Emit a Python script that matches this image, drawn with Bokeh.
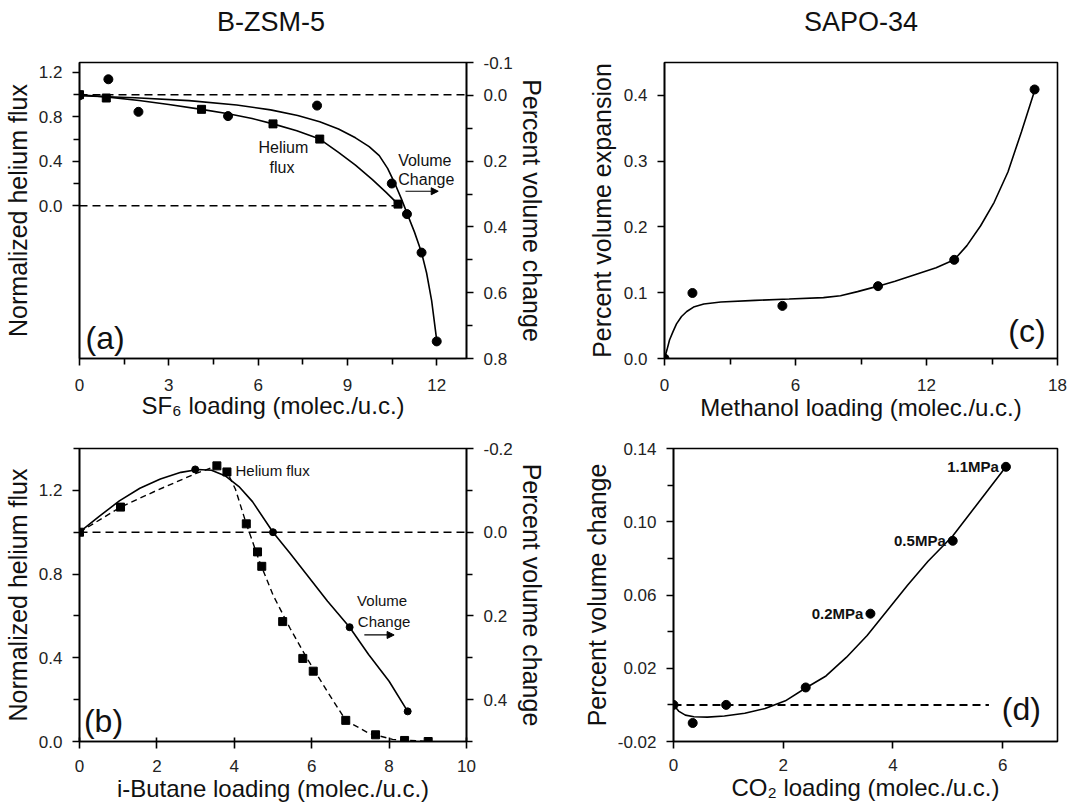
from bokeh.plotting import figure
from bokeh.models import (Range1d, LinearAxis, FixedTicker, NumeralTickFormatter,
                          Span, Label, Arrow, NormalHead)
from bokeh.core.properties import value
from bokeh.layouts import row, column
from bokeh.embed import file_html
from bokeh.resources import INLINE

FONT = "Liberation Sans"
TXT = "#111111"

# ---------------- text ----------------
PANEL_TITLES = ["B-ZSM-5", "SAPO-34"]

# ---------------- data: panel (a) B-ZSM-5, SF6 ----------------
A_HE_X = [0, 0.9, 4.1, 6.5, 8.07, 10.7]
A_HE_Y = [1.0, 0.97, 0.868, 0.737, 0.60, 0.014]
A_HE_FIT_X = [0, 0.9, 2, 3, 4.1, 5, 5.8, 6.5, 7.3, 8.07, 8.7, 9.27, 9.84, 10.3, 10.7]
A_HE_FIT_Y = [1.0, 0.98, 0.948, 0.912, 0.868, 0.828, 0.785, 0.737, 0.675, 0.60, 0.48, 0.365, 0.235, 0.12, 0.014]
A_VOL_X = [0, 0.97, 1.98, 4.99, 7.98, 10.49, 11.0, 11.49, 12.0]
A_VOL_Y = [0.0, -0.049, 0.05, 0.063, 0.031, 0.268, 0.361, 0.478, 0.748]
A_VOL_FIT_X = [0, 1.86, 3.68, 5.28, 6.42, 7.33, 8.07, 8.70, 9.27, 9.73, 10.07, 10.35,
               10.58, 10.81, 11.0, 11.25, 11.49, 11.66, 11.83, 12.0]
A_VOL_FIT_Y = [0.001, 0.007, 0.016, 0.029, 0.044, 0.061, 0.080, 0.102, 0.129, 0.156, 0.183, 0.222,
               0.265, 0.314, 0.358, 0.415, 0.478, 0.54, 0.625, 0.745]
A_ZERO_X = [0, 10.7]
A_ZERO_Y = [0.0, 0.0]

# ---------------- data: panel (b) B-ZSM-5, i-butane ----------------
B_HE_X = [0, 1.06, 3.55, 3.81, 4.31, 4.60, 4.71, 5.25, 5.77, 6.04, 6.88, 7.65, 8.4, 9.01]
B_HE_Y = [1.0, 1.12, 1.317, 1.288, 1.04, 0.906, 0.837, 0.573, 0.397, 0.336, 0.101, 0.032, 0.005, 0.0]
B_HE_FIT_X = [0, 1.06, 2.0, 3.0, 3.55, 3.81, 4.03, 4.31, 4.65, 5.0, 5.44, 5.88, 6.41, 6.88, 7.47, 8.09, 9.01]
B_HE_FIT_Y = [1.0, 1.12, 1.20, 1.28, 1.317, 1.29, 1.205, 1.04, 0.861, 0.70, 0.541, 0.397, 0.237, 0.101, 0.04, 0.01, 0.0]
B_VOL_X = [0, 2.99, 5.0, 6.98, 8.48]
B_VOL_Y = [0.0, -0.150, 0.0, 0.227, 0.428]
B_VOL_FIT_X = [0, 0.50, 1.03, 1.56, 2.09, 2.62, 3.06, 3.41, 3.76, 4.12, 4.47, 5.0,
               5.44, 5.88, 6.41, 6.98, 7.47, 8.0, 8.48]
B_VOL_FIT_Y = [0.0, -0.037, -0.075, -0.105, -0.127, -0.143, -0.150, -0.148, -0.135, -0.109, -0.073, 0.0,
               0.05, 0.102, 0.165, 0.227, 0.292, 0.356, 0.428]

# ---------------- data: panel (c) SAPO-34, methanol ----------------
C_X = [0, 1.28, 5.4, 9.78, 13.27, 16.95]
C_Y = [0.0, 0.0996, 0.080, 0.110, 0.150, 0.409]
C_FIT_X = [0, 0.11, 0.23, 0.39, 0.55, 0.78, 1.02, 1.33, 1.80, 2.58, 4.15, 5.71, 7.28, 8.06, 8.84,
           9.78, 10.56, 11.5, 12.44, 13.27, 13.85, 14.48, 15.1, 15.73, 16.35, 16.95]
C_FIT_Y = [0.0, 0.0128, 0.0281, 0.0409, 0.0526, 0.0639, 0.0715, 0.0782, 0.0828, 0.0858, 0.0884, 0.0904,
           0.0925, 0.0955, 0.1017, 0.110, 0.1175, 0.1277, 0.1379, 0.150, 0.1716, 0.2018, 0.2375,
           0.2835, 0.3448, 0.4071]

# ---------------- data: panel (d) SAPO-34, CO2 ----------------
D_X = [0, 0.35, 0.96, 2.41, 3.59, 5.09, 6.06]
D_Y = [0.0, -0.0099, 0.0, 0.0095, 0.0498, 0.0896, 0.130]
D_FIT_X = [0, 0.093, 0.216, 0.371, 0.618, 0.928, 1.299, 1.67, 2.04, 2.41, 2.78, 3.15, 3.53,
           3.90, 4.27, 4.64, 5.09, 5.5, 6.06]
D_FIT_Y = [0.0, -0.0034, -0.0056, -0.0065, -0.0067, -0.0061, -0.0046, -0.002, 0.0022, 0.0092,
           0.0158, 0.0259, 0.0379, 0.0517, 0.0655, 0.0784, 0.0922, 0.1082, 0.130]
D_ZERO_X = [0, 5.75]
D_ZERO_Y = [0.0, 0.0]
D_PRESSURE_LABELS = ["0.2MPa", "0.5MPa", "1.1MPa"]
D_PRESSURE_X = [3.59, 5.09, 6.06]
D_PRESSURE_Y = [0.0498, 0.0896, 0.130]

TICK_PX = "17px"
XLAB_PX = "24px"
YLAB_PX = "25px"
DASH = "8 5"

# ---------------- layout geometry (pixels) ----------------
LEFT_W, RIGHT_W = 558, 510
TITLE_H = 40
TOP_ROW_H, BOT_ROW_H = 400, 369
A_BORDER = dict(left=79, right=92, top=21, bottom=73)     # frame 387 x 306
C_BORDER = dict(left=106, right=11, top=22, bottom=82)    # frame 393 x 296
B_BORDER = dict(left=79, right=92, top=7, bottom=68)      # frame 387 x 294
D_BORDER = dict(left=115, right=11, top=8, bottom=67)     # frame 384 x 294


def make_fig(width, height, border, xr, yr):
    p = figure(width=width, height=height, x_range=Range1d(*xr), y_range=Range1d(*yr),
               output_backend="svg", toolbar_location=None,
               min_border_left=border["left"], min_border_right=border["right"],
               min_border_top=border["top"], min_border_bottom=border["bottom"])
    p.grid.visible = False
    p.outline_line_color = "black"
    p.outline_line_width = 1.6
    p.background_fill_color = "white"
    p.border_fill_color = "white"
    return p


def style_axis(ax, ticks, minor, fmt, label, label_size, standoff, lab_standoff=10, tin=0):
    ax.ticker = FixedTicker(ticks=ticks, minor_ticks=minor)
    ax.formatter = NumeralTickFormatter(format=fmt)
    ax.axis_label = label
    ax.axis_label_text_font = FONT
    ax.axis_label_text_font_size = label_size
    ax.axis_label_text_font_style = "normal"
    ax.axis_label_text_color = TXT
    ax.axis_label_standoff = standoff
    ax.major_label_text_font = FONT
    ax.major_label_text_font_size = TICK_PX
    ax.major_label_text_color = "#222222"
    ax.major_label_standoff = lab_standoff
    ax.major_tick_out = 7
    ax.major_tick_in = tin
    ax.minor_tick_out = 6
    ax.minor_tick_in = 0
    ax.axis_line_width = 1.6
    ax.axis_line_color = "black"
    ax.major_tick_line_color = "black"
    ax.minor_tick_line_color = "black"
    ax.major_tick_line_width = 1.6
    ax.minor_tick_line_width = 1.6


def add_text(p, x, y, text, size="16px", style="normal", align="center"):
    p.add_layout(Label(x=x, y=y, text=text, text_font=FONT, text_font_size=size,
                       text_font_style=style, text_align=align, text_baseline="middle",
                       text_color=TXT))


def add_arrow(p, x0, x1, y):
    p.add_layout(Arrow(end=NormalHead(size=7, fill_color="black", line_color="black", line_width=1),
                       x_start=x0, y_start=y, x_end=x1, y_end=y, line_width=1.2, line_color="black"))


# ---------------- title strip ----------------
pt = figure(width=LEFT_W + RIGHT_W, height=TITLE_H, x_range=Range1d(0, LEFT_W + RIGHT_W),
            y_range=Range1d(0, TITLE_H), output_backend="svg", toolbar_location=None,
            x_axis_type=None, y_axis_type=None, min_border=0)
pt.grid.visible = False
pt.outline_line_color = None
a_frame_w = LEFT_W - A_BORDER["left"] - A_BORDER["right"]
c_frame_w = RIGHT_W - C_BORDER["left"] - C_BORDER["right"]
title_x = [A_BORDER["left"] + a_frame_w / 2 - 2, LEFT_W + C_BORDER["left"] + c_frame_w / 2]
title_y = [TITLE_H - 21, TITLE_H - 21]
pt.text(x=title_x, y=title_y, text=PANEL_TITLES, text_font=value(FONT), text_font_size="27px",
        text_align="center", text_baseline="middle", text_color=TXT)

# ---------------- panel (a) ----------------
pa = make_fig(LEFT_W, TOP_ROW_H, A_BORDER, (0, 13), (-1.377, 1.29))
pa.extra_y_ranges = {"vol": Range1d(start=0.8, end=-0.1)}
ra = LinearAxis(y_range_name="vol")
pa.add_layout(ra, "right")
style_axis(pa.xaxis[0], [0, 3, 6, 9, 12], [1.5, 4.5, 7.5, 10.5], "0",
           "SF\u2086 loading (molec./u.c.)", XLAB_PX, -2, lab_standoff=13)
style_axis(pa.yaxis[0], [0, 0.4, 0.8, 1.2], [0.2, 0.6, 1.0], "0.0",
           "Normalized helium flux", YLAB_PX, 4)
style_axis(ra, [-0.1, 0, 0.2, 0.4, 0.6, 0.8], [0.1, 0.3, 0.5, 0.7], "0.0",
           "Percent volume change", YLAB_PX, 2)
pa.add_layout(Span(location=1.0, dimension="width", line_dash=DASH, line_width=1.5, line_color="black"))
pa.line(A_ZERO_X, A_ZERO_Y, line_dash=DASH, line_width=1.5, color="black")
pa.line(A_HE_FIT_X, A_HE_FIT_Y, line_width=1.6, color="black")
pa.line(A_VOL_FIT_X, A_VOL_FIT_Y, line_width=1.6, color="black", y_range_name="vol")
pa.scatter(A_HE_X, A_HE_Y, marker="square", size=8, color="black")
pa.scatter(A_VOL_X, A_VOL_Y, marker="circle", size=9, color="black", y_range_name="vol")
add_text(pa, 6.85, 0.52, "Helium")
add_text(pa, 6.8, 0.345, "flux")
add_text(pa, 11.6, 0.41, "Volume")
add_text(pa, 11.65, 0.235, "Change")
add_arrow(pa, 10.95, 12.05, 0.13)
add_text(pa, 0.86, -1.19, "(a)", size="32px")

# ---------------- panel (b) ----------------
pb = make_fig(LEFT_W, BOT_ROW_H, B_BORDER, (0, 10), (0, 1.4))
pb.extra_y_ranges = {"vol": Range1d(start=0.5, end=-0.2)}
rb = LinearAxis(y_range_name="vol")
pb.add_layout(rb, "right")
style_axis(pb.xaxis[0], [0, 2, 4, 6, 8, 10], [], "0",
           "i-Butane loading (molec./u.c.)", XLAB_PX, 0, lab_standoff=11, tin=4)
style_axis(pb.yaxis[0], [0, 0.4, 0.8, 1.2], [0.2, 0.6, 1.0, 1.4], "0.0",
           "Normalized helium flux", YLAB_PX, 4)
style_axis(rb, [-0.2, 0, 0.2, 0.4], [-0.1, 0.1, 0.3, 0.5], "0.0",
           "Percent volume change", YLAB_PX, 2)
pb.add_layout(Span(location=1.0, dimension="width", line_dash=DASH, line_width=1.5, line_color="black"))
pb.line(B_HE_FIT_X, B_HE_FIT_Y, line_dash="6 4", line_width=1.4, color="black")
pb.line(B_VOL_FIT_X, B_VOL_FIT_Y, line_width=1.6, color="black", y_range_name="vol")
pb.scatter(B_HE_X, B_HE_Y, marker="square", size=8, color="black")
pb.scatter(B_VOL_X, B_VOL_Y, marker="circle", size=7, color="black", y_range_name="vol")
add_text(pb, 4.03, 1.293, "Helium flux", size="15px", align="left")
add_text(pb, 7.82, 0.672, "Volume", size="15px")
add_text(pb, 7.87, 0.573, "Change", size="15px")
add_arrow(pb, 7.36, 8.13, 0.509)
add_text(pb, 0.62, 0.1, "(b)", size="32px")

# ---------------- panel (c) ----------------
pc = make_fig(RIGHT_W, TOP_ROW_H, C_BORDER, (0, 18), (0, 0.45))
style_axis(pc.xaxis[0], [0, 6, 12, 18], [3, 9, 15], "0",
           "Methanol loading (molec./u.c.)", XLAB_PX, 0, lab_standoff=13)
style_axis(pc.yaxis[0], [0, 0.1, 0.2, 0.3, 0.4], [], "0.0",
           "Percent volume expansion", YLAB_PX, 5)
pc.line(C_FIT_X, C_FIT_Y, line_width=1.6, color="black")
pc.scatter(C_X, C_Y, marker="circle", size=9, color="black")
add_text(pc, 16.6, 0.042, "(c)", size="32px")

# ---------------- panel (d) ----------------
pd = make_fig(RIGHT_W, BOT_ROW_H, D_BORDER, (0, 7), (-0.02, 0.14))
style_axis(pd.xaxis[0], [0, 2, 4, 6], [], "0",
           "CO\u2082 loading (molec./u.c.)", XLAB_PX, 0, lab_standoff=10)
style_axis(pd.yaxis[0], [-0.02, 0.02, 0.06, 0.10, 0.14], [0.0, 0.04, 0.08, 0.12], "0.00",
           "Percent volume change", YLAB_PX, 4)
pd.line(D_ZERO_X, D_ZERO_Y, line_dash=DASH, line_width=2, color="black")
pd.line(D_FIT_X, D_FIT_Y, line_width=1.6, color="black")
pd.scatter(D_X, D_Y, marker="circle", size=9, color="black")
for t, x, y in zip(D_PRESSURE_LABELS, D_PRESSURE_X, D_PRESSURE_Y):
    pd.add_layout(Label(x=x, y=y, text=t, x_offset=-7, text_font=FONT, text_font_size="15px",
                        text_font_style="bold", text_align="right", text_baseline="middle",
                        text_color=TXT))
add_text(pd, 6.34, -0.0025, "(d)", size="32px")

layout = column(pt, row(pa, pc), row(pb, pd))
open("out.html", "w").write(file_html(layout, INLINE))
